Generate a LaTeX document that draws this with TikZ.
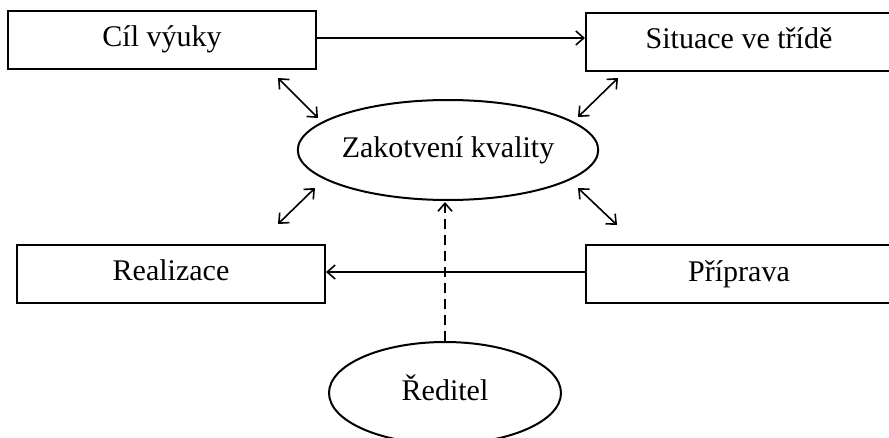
\documentclass[tikz,border=0pt]{standalone}
\usepackage{fontspec}
\setmainfont{Liberation Serif}
\usetikzlibrary{shapes.geometric,arrows.meta}

\begin{document}
\begin{tikzpicture}[scale=0.17573,
  box/.style={draw,rectangle,line width=1pt,inner sep=0pt,minimum height=29pt},
  oval/.style={draw,ellipse,line width=1pt,inner sep=0pt},
  tip/.style={-{Straight Barb[length=4pt,width=7pt]},line width=0.8pt},
  dtip/.style={{Straight Barb[length=4pt,width=7pt]}-{Straight Barb[length=4pt,width=7pt]},line width=0.8pt}]
\tikzstyle{every node}+=[font=\fontsize{15}{18}\selectfont,text height=10pt,text depth=3pt]
\clip (0,0) rectangle (88.9,-43.7);
\node [box,minimum width=154pt] (cil) at (16.2,-3.95) {Cíl výuky};
\node [box,minimum width=153pt] (sit) at (73.9,-4.2) {Situace ve třídě};
\node [box,minimum width=154pt] (real) at (17.1,-27.35) {Realizace};
\node [box,minimum width=153pt] (prip) at (73.9,-27.4) {Příprava};
\node [oval,minimum width=136pt,minimum height=50pt] (zak) at (44.8,-15) {Zakotvení kvality};
\node [oval,minimum width=116pt,minimum height=51pt] (red) at (44.5,-39.3) {Ředitel};
\coordinate (a1) at (27.8,-7.8);
\coordinate (a2) at (31.8,-11.8);
\coordinate (b1) at (61.8,-7.8);
\coordinate (b2) at (57.8,-11.7);
\coordinate (c1) at (31.5,-18.8);
\coordinate (c2) at (27.8,-22.4);
\coordinate (d1) at (57.8,-18.8);
\coordinate (d2) at (61.7,-22.5);
\draw [tip] (cil.east |- 0,-3.8) -- (sit.west |- 0,-3.8);
\draw [tip] (prip.west |- 0,-27.2) -- (real.east |- 0,-27.2);
\draw [tip,dashed,dash pattern=on 5pt off 3pt] (red.north) -- ([yshift=-3pt]red.north |- zak.south);
\draw [dtip] (a1) -- (a2);
\draw [dtip] (b1) -- (b2);
\draw [dtip] (c1) -- (c2);
\draw [dtip] (d1) -- (d2);
\end{tikzpicture}
\end{document}
